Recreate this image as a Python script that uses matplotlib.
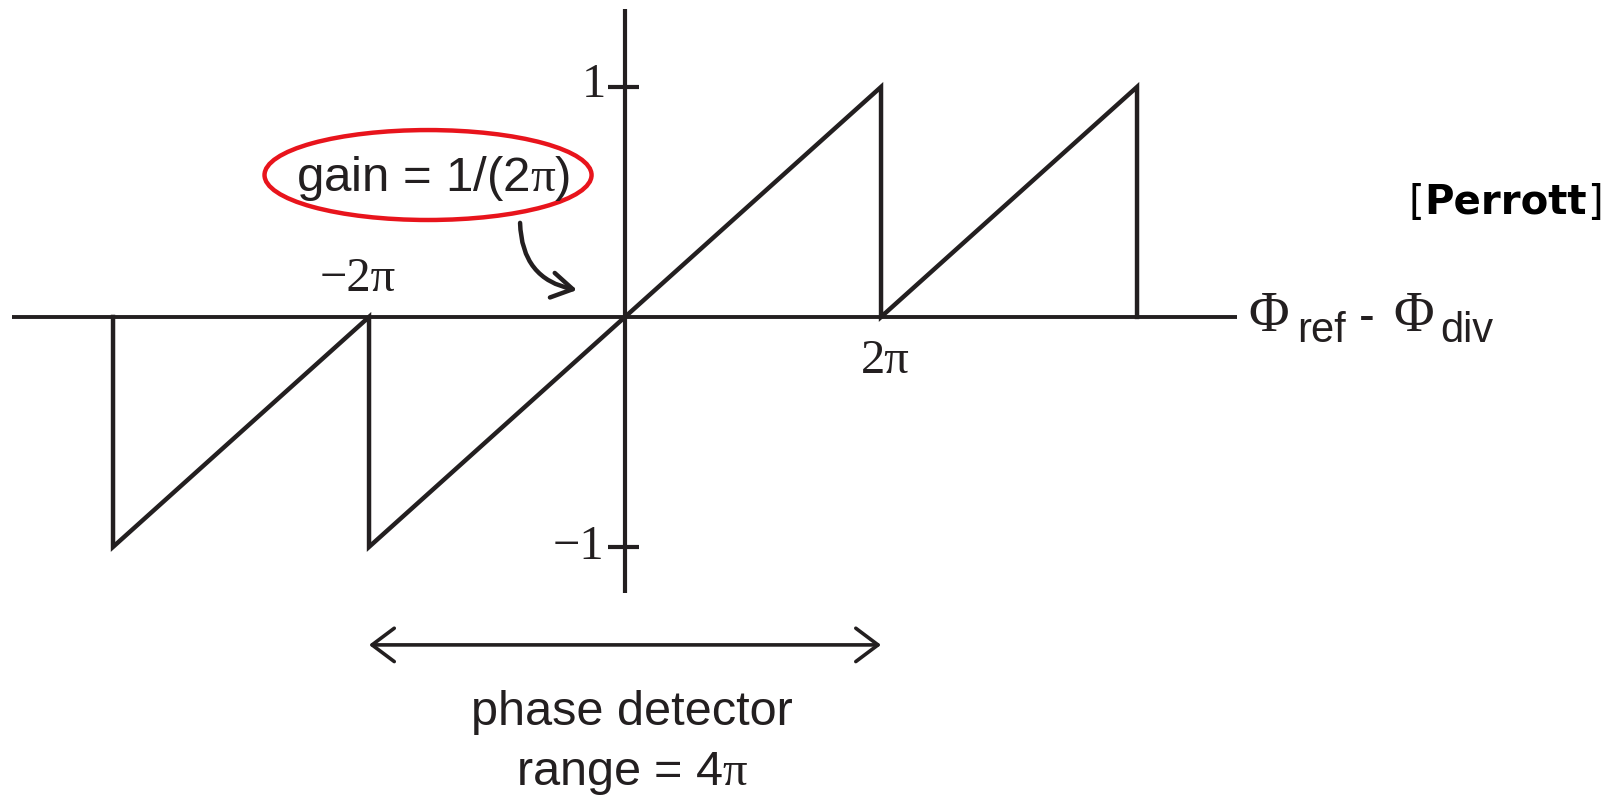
import numpy as np
import matplotlib
matplotlib.use("Agg")
import matplotlib.pyplot as plt
from matplotlib.patches import Ellipse

plt.rcParams["mathtext.fontset"] = "custom"
plt.rcParams["mathtext.rm"] = "Liberation Serif"
plt.rcParams["mathtext.it"] = "Liberation Serif"

# sawtooth phase detector characteristic (x in multiples of pi)
phase_x = [-4, -4, -2, -2, 2, 2, 4, 4]
phase_y = [0, -1, 0, -1, 1, 0, 1, 0]

tick_y = [1, -1]
tick_y_labels = ["1", "\u22121"]
tick_x = [-2, 2]
tick_x_labels = ["\u22122\u03c0", "2\u03c0"]

ink = "#231f20"
serif = "Liberation Serif"
sans = "Liberation Sans"

fig = plt.figure(figsize=(16.21, 7.99), dpi=100)
ax = fig.add_axes([0, 0, 1, 1])
ax.set_xlim(-4.883, 7.781)
ax.set_ylim(-2.096, 1.378)
ax.axis("off")

# axes
ax.plot([-4.79, 4.78], [0, 0], color=ink, lw=2.8, solid_capstyle="butt")
ax.plot([0, 0], [1.34, -1.20], color=ink, lw=3.0, solid_capstyle="butt")
for yv in tick_y:
    ax.plot([-0.13, 0.11], [yv, yv], color=ink, lw=3.0, solid_capstyle="butt")

# the curve
ax.plot(phase_x, phase_y, color=ink, lw=3.2, solid_joinstyle="miter")

# tick labels
ax.text(-0.242, 1.01, tick_y_labels[0], family=serif, fontsize=35,
        ha="center", va="center", color=ink)
ax.text(-0.367, -1.0, tick_y_labels[1], family=serif, fontsize=35,
        ha="center", va="center", color=ink)
ax.text(tick_x[0] - 0.09, 0.165, tick_x_labels[0], family=serif, fontsize=35,
        ha="center", va="center", color=ink)
ax.text(tick_x[1] + 0.03, -0.19, tick_x_labels[1], family=serif, fontsize=35,
        ha="center", va="center", color=ink)

# x-axis label: Phi_ref - Phi_div
ax.text(4.87, -0.06, "\u03a6", family=serif, fontsize=40, ha="left",
        va="baseline", color=ink)
ax.text(5.25, -0.109, "ref", family=sans, fontsize=30, ha="left",
        va="baseline", color=ink)
ax.text(5.797, -0.06, "-", family=sans, fontsize=34, ha="center",
        va="baseline", color=ink)
ax.text(6.0, -0.06, "\u03a6", family=serif, fontsize=40, ha="left",
        va="baseline", color=ink)
ax.text(6.37, -0.109, "div", family=sans, fontsize=30, ha="left",
        va="baseline", color=ink)

# gain annotation
ax.text(-1.50, 0.60, r"gain = 1/(2$\pi$)", family=sans, fontsize=35.5,
        ha="center", va="center", color=ink)
ax.add_patch(Ellipse((-1.539, 0.617), 2.555, 0.391, fill=False,
                     edgecolor="#e8141c", lw=3.2))
ax.annotate("", xy=(-0.375, 0.117), xytext=(-0.82, 0.409),
            arrowprops=dict(arrowstyle="->,head_length=0.75,head_width=0.45",
                            connectionstyle="arc3,rad=0.4", color=ink,
                            lw=3.2, mutation_scale=20, shrinkA=0, shrinkB=0))

# range annotation
ax.annotate("", xy=(2, -1.426), xytext=(-2, -1.426),
            arrowprops=dict(arrowstyle="<->,head_length=0.8,head_width=0.6",
                            color=ink, lw=2.6, mutation_scale=20,
                            shrinkA=0, shrinkB=0))
ax.text(0.055, -1.722, "phase detector", family=sans, fontsize=35,
        ha="center", va="center", color=ink)
ax.text(0.055, -1.983, r"range = 4$\pi$", family=sans, fontsize=35,
        ha="center", va="center", color=ink)

# citation
cite = ax.text(6.88, 0.496, "Perrott", family="DejaVu Sans", fontweight="bold",
               fontsize=29, ha="center", va="center", color="black")
ax.annotate("[", xy=(0, 0.5), xycoords=cite, family="DejaVu Sans",
            fontsize=29, ha="right", va="center", color="black")
ax.annotate("]", xy=(1, 0.5), xycoords=cite, family="DejaVu Sans",
            fontsize=29, ha="left", va="center", color="black")

fig.savefig("out.png", dpi=100, facecolor="white")
